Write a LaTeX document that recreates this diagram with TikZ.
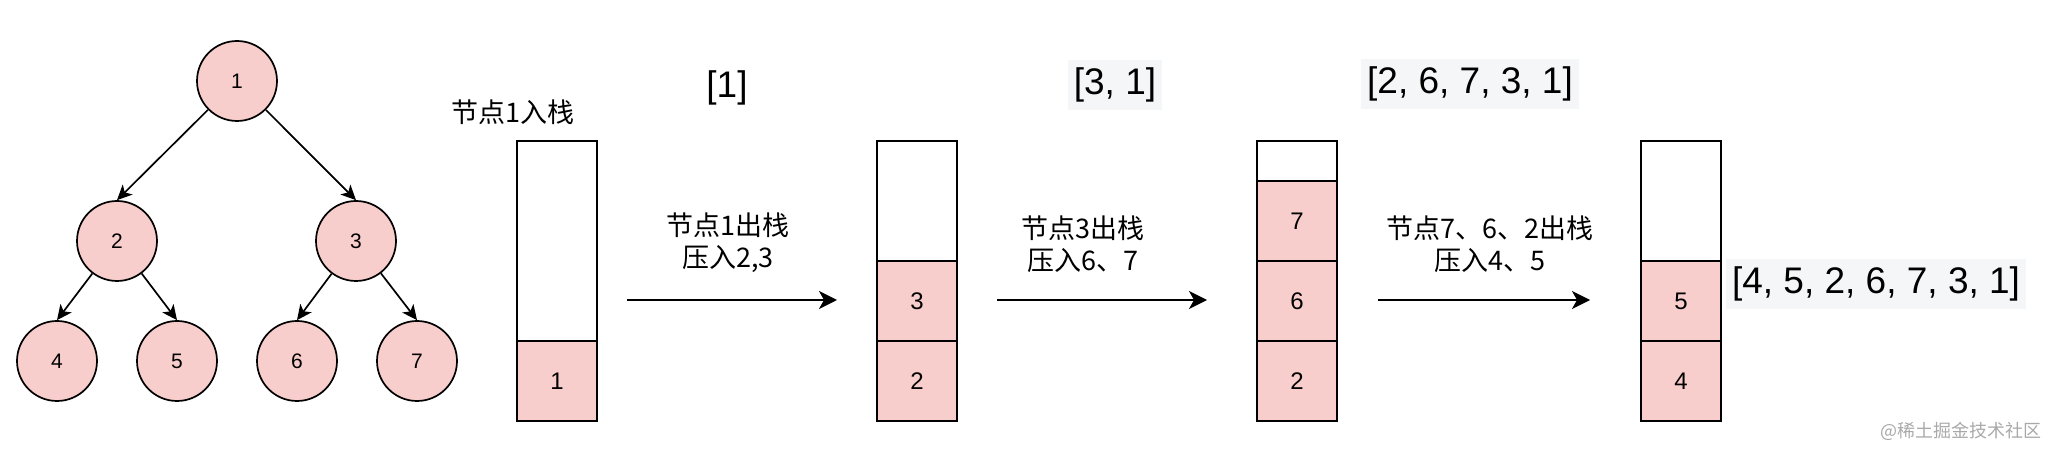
\documentclass[tikz,border=0pt]{standalone}
\usepackage{fontspec}
\setmainfont{Liberation Sans}
\newfontfamily\cjk{Noto Sans CJK SC}
\usepackage{tikz}
\usetikzlibrary{arrows.meta,positioning}
\definecolor{rosaNodo}{HTML}{F8CECC}
\definecolor{grisFondo}{HTML}{F5F6F7}
\definecolor{grisMarca}{HTML}{A9A9A9}

\begin{document}
\begin{tikzpicture}[x=0.5pt, y=-0.5pt,
    nodo/.style={circle, draw, line width=0.85pt, fill=rosaNodo, minimum size=40pt,
                 inner sep=0pt, font=\fontsize{10.5}{12}\selectfont},
    celda/.style={rectangle, draw, line width=1.2pt, fill=rosaNodo, minimum width=40pt,
                  minimum height=40pt, inner sep=0pt, font=\fontsize{12}{14}\selectfont},
    pila/.style={rectangle, draw, line width=1.2pt, minimum width=40pt, minimum height=140pt, inner sep=0pt},
    rama/.style={-{Stealth[length=7.5pt, width=7pt, inset=2pt]}, line width=0.85pt},
    flecha/.style={-{Stealth[length=9pt, width=9pt, inset=2.5pt]}, line width=1pt},
    etiqueta/.style={font=\cjk\fontsize{13.5}{16}\selectfont, align=center},
    lista/.style={font=\fontsize{18.5}{21}\selectfont, inner xsep=3pt, inner ysep=4pt},
    fondo/.style={fill=grisFondo}
  ]
  \useasboundingbox (0,0) rectangle (2056,458);

  \node[nodo] (n1) at (237,81) {1};
  \node[nodo] (n2) at (117,241) {2};
  \node[nodo] (n3) at (356,241) {3};
  \node[nodo] (n4) at (57,361) {4};
  \node[nodo] (n5) at (177,361) {5};
  \node[nodo] (n6) at (297,361) {6};
  \node[nodo] (n7) at (417,361) {7};

  \draw[rama] (n1) -- (n2.north);
  \draw[rama] (n1) -- (n3.north);
  \draw[rama] (n2) -- (n4.north);
  \draw[rama] (n2) -- (n5.north);
  \draw[rama] (n3) -- (n6.north);
  \draw[rama] (n3) -- (n7.north);

  \node[etiqueta] (titulo) at (513,112) {节点1入栈};
  \node[celda] (a1) at (557,381) {1};
  \node[pila] (pilaA) at (557,281) {};

  \node[celda] (b2) at (917,381) {2};
  \node[celda] (b3) at (917,301) {3};
  \node[pila] (pilaB) at (917,281) {};

  \node[celda] (c2) at (1297,381) {2};
  \node[celda] (c6) at (1297,301) {6};
  \node[celda] (c7) at (1297,221) {7};
  \node[pila] (pilaC) at (1297,281) {};

  \node[celda] (d4) at (1681,381) {4};
  \node[celda] (d5) at (1681,301) {5};
  \node[pila] (pilaD) at (1681,281) {};

  \coordinate (s1) at (627,300);  \coordinate (e1) at (837,300);
  \coordinate (s2) at (997,300);  \coordinate (e2) at (1207,300);
  \coordinate (s3) at (1378,300); \coordinate (e3) at (1590,300);

  \draw[flecha] (s1) -- node[pos=0.48, above=10pt, etiqueta] {节点1出栈\\压入2,3} (e1);
  \draw[flecha] (s2) -- node[pos=0.41, above=10pt, etiqueta] {节点3出栈\\压入6、7} (e2);
  \draw[flecha] (s3) -- node[pos=0.53, above=10pt, etiqueta] {节点7、6、2出栈\\压入4、5} (e3);

  \node[lista] (l1) at (727,88) {[1]};
  \node[lista, fondo] (l2) at (1115,85) {[3, 1]};
  \node[lista, fondo] (l3) at (1470,84) {[2, 6, 7, 3, 1]};
  \node[lista, fondo] (l4) at (1876,284) {[4, 5, 2, 6, 7, 3, 1]};

  \node[font=\cjk\fontsize{9}{10}\selectfont, text=grisMarca] (marca) at (1961,431) {@稀土掘金技术社区};
\end{tikzpicture}
\end{document}
